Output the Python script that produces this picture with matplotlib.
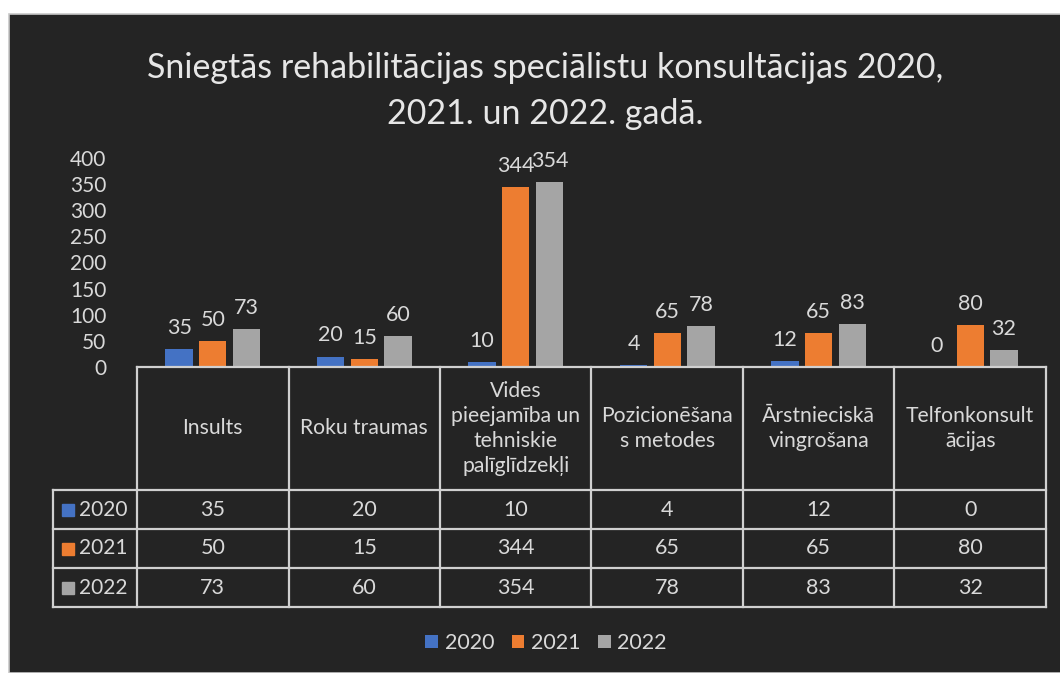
import numpy as np
import matplotlib
matplotlib.use('Agg')
import matplotlib.pyplot as plt
from matplotlib.patches import Rectangle

plt.rcParams['font.family'] = ['Lato', 'DejaVu Sans']

# Dati
kategorijas = ['Insults', 'Roku traumas', 'Vides\npieejamība un\ntehniskie\npalīglīdzekļi',
               'Pozicionēšana\ns metodes', 'Ārstnieciskā\nvingrošana', 'Telfonkonsult\nācijas']
gadi = ['2020', '2021', '2022']
v2020 = [35, 20, 10, 4, 12, 0]
v2021 = [50, 15, 344, 65, 65, 80]
v2022 = [73, 60, 354, 78, 83, 32]
krasas = ['#4472C4', '#ED7D31', '#A5A5A5']

W, H = 1060, 673
fon = '#242424'
teksts = '#d9d9d9'
linija = '#d0d0d0'

fig = plt.figure(figsize=(W / 100, H / 100), dpi=100)
fig.patch.set_facecolor('white')
fig.patches.append(Rectangle((9 / W, 0), 1, 1 - 14 / H, transform=fig.transFigure,
                             facecolor=fon, edgecolor='#c8c8c8', lw=1.2, zorder=-1))


def px(x0, y0, x1, y1):
    return [x0 / W, 1 - y1 / H, (x1 - x0) / W, (y1 - y0) / H]


# Stabiņi
ax = fig.add_axes(px(137, 158, 1046, 367))
ax.set_facecolor('none')
x = np.arange(len(kategorijas)) + 0.5
dati = [v2020, v2021, v2022]
bw = 0.18
nob = 0.222
stabini = []
for i, (d, c) in enumerate(zip(dati, krasas)):
    b = ax.bar(x + (i - 1) * nob, d, width=bw, color=c, label=gadi[i])
    ax.bar_label(b, padding=8, color=teksts, fontsize=15.5)
    stabini.append(b)
ax.set_xlim(0, 6)
ax.set_ylim(0, 400)
ax.set_yticks(np.arange(0, 401, 50))
ax.tick_params(axis='y', length=0, labelsize=15, labelcolor=teksts, pad=22)
ax.set_xticks([])
for s in ax.spines.values():
    s.set_visible(False)

# Tabula
tx = fig.add_axes(px(53, 367, 1046, 607))
tx.set_facecolor('none')
x0 = -84 / 151.5
tx.set_xlim(x0, 6)
tx.set_ylim(240, 0)
tx.axis('off')
rindas = [0, 123, 162, 201, 240]
kw = dict(color=linija, lw=1.6, solid_capstyle='projecting', clip_on=False)
tx.plot([0, 6], [0, 0], **kw)
for r in rindas[1:]:
    tx.plot([x0, 6], [r, r], **kw)
for k in range(7):
    tx.plot([k, k], [0, 240], **kw)
tx.plot([x0, x0], [123, 240], **kw)

for k, nos in enumerate(kategorijas):
    tx.text(k + 0.5, 61.5, nos, ha='center', va='center', color=teksts,
            fontsize=15.2, linespacing=1.32)
for j, d in enumerate(dati):
    yc = (rindas[j + 1] + rindas[j + 2]) / 2
    tx.plot(x0 + 0.1, yc, marker='s', ms=8, color=krasas[j], clip_on=False)
    tx.text(x0 + 0.17, yc, gadi[j], ha='left', va='center', color=teksts, fontsize=15)
    for k, v in enumerate(d):
        tx.text(k + 0.5, yc, str(v), ha='center', va='center', color=teksts, fontsize=15.5)

# Virsraksts
fig.text(545 / W, 1 - 91 / H,
         'Sniegtās rehabilitācijas speciālistu konsultācijas 2020,\n2021. un 2022. gadā.',
         ha='center', va='center', color='#e6e6e6', fontsize=24.5, linespacing=1.55)

# Leģenda
fig.legend(handles=stabini, labels=gadi, loc='center', bbox_to_anchor=(546 / W, 1 - 643 / H),
           ncol=3, frameon=False, fontsize=15.5, labelcolor=teksts, handlelength=0.6,
           handleheight=0.6, handletextpad=0.3, columnspacing=0.8)

fig.savefig('out.png', dpi=100, facecolor=fig.get_facecolor())
